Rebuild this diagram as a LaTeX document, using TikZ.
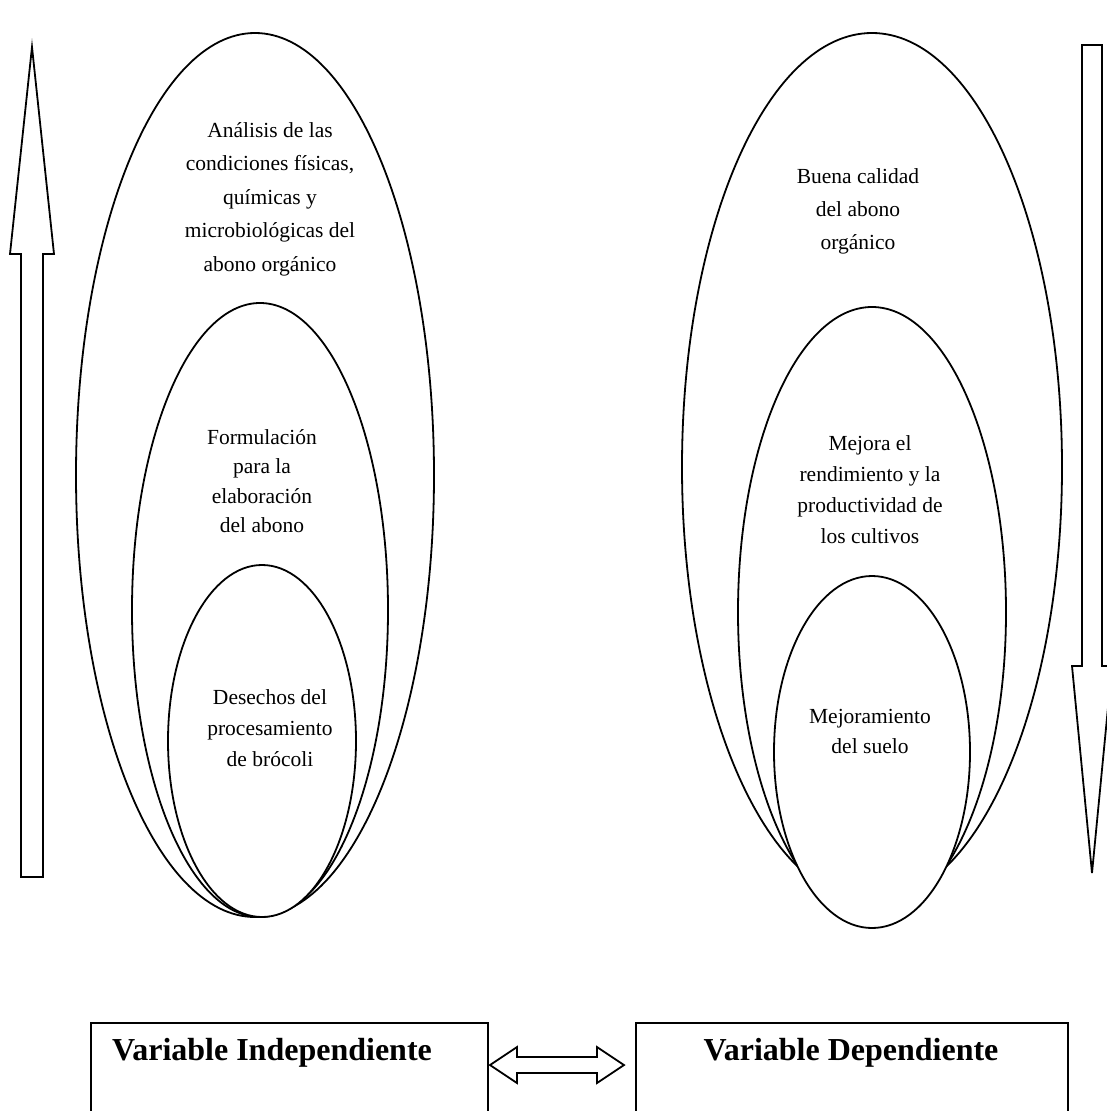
\documentclass[tikz,border=0pt]{standalone}
\usepackage{fontspec}
\setmainfont{Liberation Serif}
\begin{document}
\begin{tikzpicture}[x=1pt,y=-1pt, line join=miter,
  oval/.style={draw, line width=1.8pt, fill=white},
  txt/.style={align=center, inner sep=0pt},
  bigarrow/.style={draw, line width=1.8pt, fill=white},
  vbox/.style={draw, line width=1.8pt, inner sep=0pt},
  vtxt/.style={font=\fontsize{32}{38}\selectfont\bfseries, inner sep=0pt}]
\clip (0,0) rectangle (1107,1111);
% side arrows
\draw[bigarrow] (21,877) -- (21,254) -- (10,254) -- (32,47) -- (54,254) -- (43,254) -- (43,877) -- cycle;
\draw[bigarrow] (1082,45) -- (1102,45) -- (1102,666) -- (1112,666) -- (1092,873) -- (1072,666) -- (1082,666) -- cycle;
% left ovals
\draw[oval] (255,475) ellipse [x radius=179pt, y radius=442pt];
\draw[oval] (260,610) ellipse [x radius=128pt, y radius=307pt];
\draw[oval] (262,741) ellipse [x radius=94pt, y radius=176pt];
% right ovals
\draw[oval] (872,467) ellipse [x radius=190pt, y radius=434pt];
\draw[oval] (872,612) ellipse [x radius=134pt, y radius=305pt];
\draw[oval] (872,752) ellipse [x radius=98pt, y radius=176pt];
% texts
\node[txt, font=\fontsize{21.5}{33.5}\selectfont] (t1) at (270,199) {Análisis de las\\condiciones físicas,\\químicas y\\microbiológicas del\\abono orgánico};
\node[txt, font=\fontsize{21.5}{29.5}\selectfont] (t2) at (262,481) {Formulación\\para la\\elaboración\\del abono};
\node[txt, font=\fontsize{21.5}{31}\selectfont] (t3) at (270,728) {Desechos del\\procesamiento\\de brócoli};
\node[txt, font=\fontsize{21.5}{33}\selectfont] (t4) at (858,211) {Buena calidad\\del abono\\orgánico};
\node[txt, font=\fontsize{21.5}{31}\selectfont] (t5) at (870,490) {Mejora el\\rendimiento y la\\productividad de\\los cultivos};
\node[txt, font=\fontsize{21.5}{30}\selectfont] (t6) at (870,731) {Mejoramiento\\del suelo};
% boxes
\node[vbox, anchor=north west, minimum width=397pt, minimum height=130pt] (vi) at (90,1022) {};
\node[vbox, anchor=north west, minimum width=432pt, minimum height=130pt] (vd) at (635,1022) {};
\node[vtxt] (vit) at (272,1053) {Variable Independiente};
\node[vtxt] (vdt) at (851,1053) {Variable Dependiente};
% double arrow
\draw[bigarrow] (490,1065) -- (517,1047) -- (517,1057) -- (597,1057) -- (597,1047) -- (624,1065) -- (597,1083) -- (597,1073) -- (517,1073) -- (517,1083) -- cycle;
\end{tikzpicture}
\end{document}
